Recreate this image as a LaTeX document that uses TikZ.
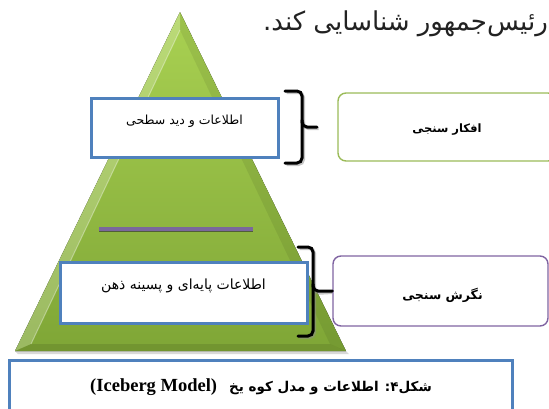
\documentclass[tikz,border=0pt]{standalone}
\usepackage{fontspec}
\setmainfont{Liberation Serif}
\newfontfamily\fa[Script=Arabic]{DejaVu Sans}
\TeXXeTstate=1
\definecolor{bluebd}{HTML}{4F81BD}
\definecolor{olivebd}{HTML}{9BBB59}
\definecolor{purplebd}{HTML}{8064A2}
\definecolor{gtop}{HTML}{A9D152}
\definecolor{gbot}{HTML}{7FA636}
\definecolor{pline}{HTML}{7A689C}
\definecolor{txtgray}{HTML}{222222}
\tikzset{
  bluebox/.style={draw=bluebd, line width=3pt, fill=white, inner sep=0pt},
  rbox/.style={line width=1.4pt, fill=white, rounded corners=8pt, inner sep=0pt},
  bracepath/.style={line width=3pt, rounded corners=5pt, line cap=round},
  braceshadow/.style={line width=3pt, rounded corners=5pt, draw=black!45, opacity=0.5},
  fatext/.style={font=\fa\fontsize{#1}{#1}\selectfont, inner sep=0pt},
}
\begin{document}
\begin{tikzpicture}[x=1pt,y=-1pt]
\useasboundingbox (0,0) rectangle (549,408);
\clip (0,0) rectangle (549,408);
% top running text
\node[fatext=26, anchor=east, text=txtgray] (toptext) at (548,24) {\beginR رئیس‌جمهور شناسایی کند.\endR};
% triangle
\coordinate (apex) at (180,12);
\coordinate (bl) at (15,351);
\coordinate (br) at (346,351);
\coordinate (iapex) at (180,30);
\coordinate (ibl) at (31,344);
\coordinate (ibr) at (330,344);
\fill[black, opacity=0.15] (18,354) -- (349,354) -- (346,351) -- (15,351) -- cycle;
\fill[top color=gtop, bottom color=gbot] (apex) -- (bl) -- (br) -- cycle;
\fill[white, opacity=0.22] (apex) -- (bl) -- (ibl) -- (iapex) -- cycle;
\fill[black, opacity=0.07] (apex) -- (br) -- (ibr) -- (iapex) -- cycle;
\fill[black, opacity=0.10] (bl) -- (br) -- (ibr) -- (ibl) -- cycle;
\draw[white, opacity=0.35, line width=1pt] (iapex) -- (ibl);
% purple line
\coordinate (pl) at (99,229);
\coordinate (pr) at (253,229);
\draw[line width=2pt, draw={rgb,255:red,80;green,95;blue,55}] ([yshift=-2pt]pl) -- ([yshift=-2pt]pr);
\draw[line width=4pt, draw=pline] (pl) -- (pr);
% blue boxes
\node[bluebox, minimum width=187pt, minimum height=59pt] (surf) at (184.5,127.5) {};
\node[fatext=12.5] (surftext) at ([yshift=6pt]surf.center) {\beginR اطلاعات و دید سطحی\endR};
\node[bluebox, minimum width=247pt, minimum height=61pt] (base) at (183.5,292.5) {};
\node[fatext=14] (basetext) at ([yshift=6.5pt]base.center) {\beginR اطلاعات پایه‌ای و پسینه ذهن\endR};
% right boxes
\node[rbox, draw=olivebd, minimum width=218pt, minimum height=68pt] (opin) at (447,127) {};
\node[font=\fa\bfseries\fontsize{11.5}{11.5}\selectfont, inner sep=0pt] (opintext) at ([yshift=-3pt]opin.center) {\beginR افکار سنجی\endR};
\node[rbox, draw=purplebd, minimum width=215pt, minimum height=70pt] (att) at (440.5,291) {};
\node[font=\fa\bfseries\fontsize{12.5}{12.5}\selectfont, inner sep=0pt] (atttext) at ([xshift=2pt,yshift=-4pt]att.center) {\beginR نگرش سنجی\endR};
% braces
\coordinate (b1t) at (285,91);
\coordinate (b1b) at (285,163);
\coordinate (b1m) at (317,127);
\draw[braceshadow] ([shift={(1.5,1.5)}]b1t) -- (303.5,92.5) -- (303.5,128.5) -- ([shift={(1.5,1.5)}]b1m);
\draw[braceshadow] (303.5,121.5) -- (303.5,164.5) -- ([shift={(1.5,1.5)}]b1b);
\draw[bracepath] (b1t) -- (302,91) -- (302,127) -- (b1m);
\draw[bracepath] (302,120) -- (302,163) -- (b1b);
\coordinate (b2t) at (298,247);
\coordinate (b2b) at (298,336);
\coordinate (b2m) at (att.west);
\draw[braceshadow] ([shift={(1.5,1.5)}]b2t) -- (314.5,248.5) -- (314.5,293.5) -- ([shift={(0,1.5)}]b2m);
\draw[braceshadow] (314.5,286.5) -- (314.5,337.5) -- ([shift={(1.5,1.5)}]b2b);
\draw[bracepath] (b2t) -- (313,247) -- (313,291) -- (b2m);
\draw[bracepath] (313,284) -- (313,336) -- (b2b);
% caption
\node[bluebox, minimum width=503pt, minimum height=70pt, anchor=north west] (cap) at (8,359) {};
\node[inner sep=0pt] (captext) at (261,387) {\bfseries\fontsize{18.5}{18.5}\selectfont (Iceberg Model)\hspace{12pt}{\fa\bfseries\fontsize{13.5}{13.5}\selectfont\beginR شکل۴: اطلاعات و مدل کوه یخ\endR}};
\end{tikzpicture}
\end{document}
